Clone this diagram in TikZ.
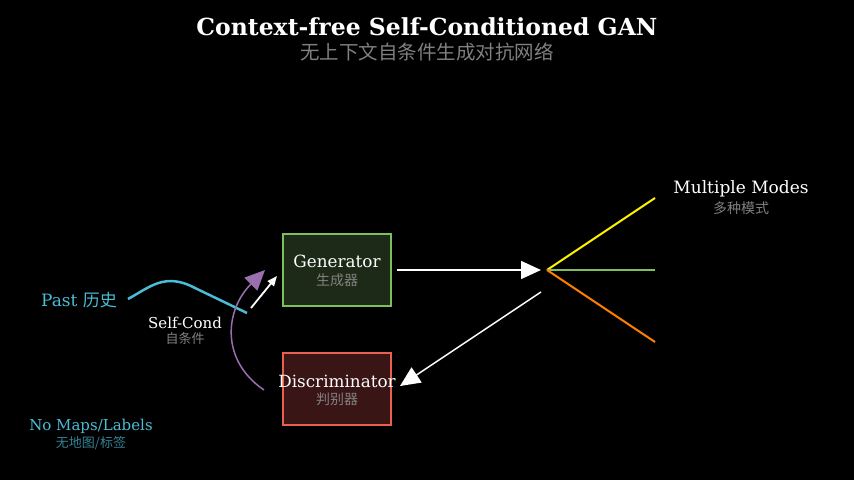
\documentclass[tikz,border=0pt]{standalone}
\usepackage{fontspec}
\setmainfont{DejaVu Serif}
\newfontfamily\cjk{Noto Sans CJK SC}
\usetikzlibrary{arrows.meta}
\definecolor{cyanw}{HTML}{4BBCD6}
\definecolor{grn}{HTML}{7DBF5A}
\definecolor{rd}{HTML}{E8604F}
\definecolor{purp}{HTML}{9A6FAF}
\tikzset{
 lbl/.style={text=white,font=\fontsize{16.8}{18}\selectfont,inner sep=0},
 sub/.style={text=gray,font=\cjk\fontsize{14}{15}\selectfont,inner sep=0},
 box/.style={draw,line width=1.5pt,minimum width=108pt,minimum height=72pt},
 big/.style={-{Triangle[width=18pt,length=20pt]},white,line width=1.5pt},
}
\begin{document}
\begin{tikzpicture}[x=1pt,y=-1pt]
\fill[black] (0,0) rectangle (854,480);
\useasboundingbox (0,0) rectangle (854,480);
\node[text=white,font=\bfseries\fontsize{23.5}{25}\selectfont,inner sep=0] (t) at (427,27) {Context-free Self-Conditioned GAN};
\node[sub,font=\cjk\fontsize{19.5}{21}\selectfont] (ts) at (427,52) {无上下文自条件生成对抗网络};
\node[box,draw=grn,fill={rgb,255:red,28;green,42;blue,23}] (g) at (337,270) {};
\node[lbl] (gl) at (337,261) {Generator};
\node[sub] (gs) at (337,280) {生成器};
\node[box,draw=rd,fill={rgb,255:red,58;green,21;blue,21}] (d) at (337,389) {};
\node[lbl] (dl) at (337,381) {Discriminator};
\node[sub] (ds) at (337,399) {判别器};
\coordinate (f) at (547,270);
\coordinate (ga) at (397,270);
\coordinate (fa) at (541,270);
\draw[big] (ga) -- (fa);
\coordinate (y1) at (655,198);\coordinate (y2) at (655,270);\coordinate (y3) at (655,342);
\draw[yellow,line width=2pt] (f) -- (y1);
\draw[grn,line width=2pt] (f) -- (y2);
\draw[orange,line width=2pt] (f) -- (y3);
\node[lbl,font=\fontsize{17}{18}\selectfont] (mm) at (741,189) {Multiple Modes};
\node[sub,font=\cjk\fontsize{14}{15}\selectfont] (mms) at (741,208) {多种模式};
\coordinate (b1) at (541,292);\coordinate (b2) at (400,386);
\draw[big] (b1) -- (b2);
\coordinate (w1) at (128,299);\coordinate (w2) at (247,313);
\draw[cyanw,line width=2.5pt] (w1) .. controls (150,287) and (165,272) .. (195,288) -- (w2);
\coordinate (s1) at (251,308);\coordinate (s2) at (277,276);
\draw[-{Triangle[width=8pt,length=10pt]},white,line width=1.8pt] (s1) -- (s2);
\coordinate (p1) at (264,390);\coordinate (p2) at (265,270);
\draw[purp,line width=1.5pt,-{Triangle[width=18pt,length=20pt]}] (p1) .. controls (220,360) and (225,310) .. (p2);
\node[text=cyanw,font=\fontsize{17}{18}\selectfont,inner sep=0] (past) at (79,300) {Past {\cjk 历史}};
\node[lbl,font=\fontsize{15}{16}\selectfont] (sc) at (185,323) {Self-Cond};
\node[sub,font=\cjk\fontsize{13}{14}\selectfont] (scs) at (185,339) {自条件};
\node[text=cyanw,font=\fontsize{15}{16}\selectfont,inner sep=0] (nm) at (91,426) {No Maps/Labels};
\node[text=cyanw!70!black,font=\cjk\fontsize{13}{14}\selectfont,inner sep=0] (nms) at (91,443) {无地图/标签};
\end{tikzpicture}
\end{document}
